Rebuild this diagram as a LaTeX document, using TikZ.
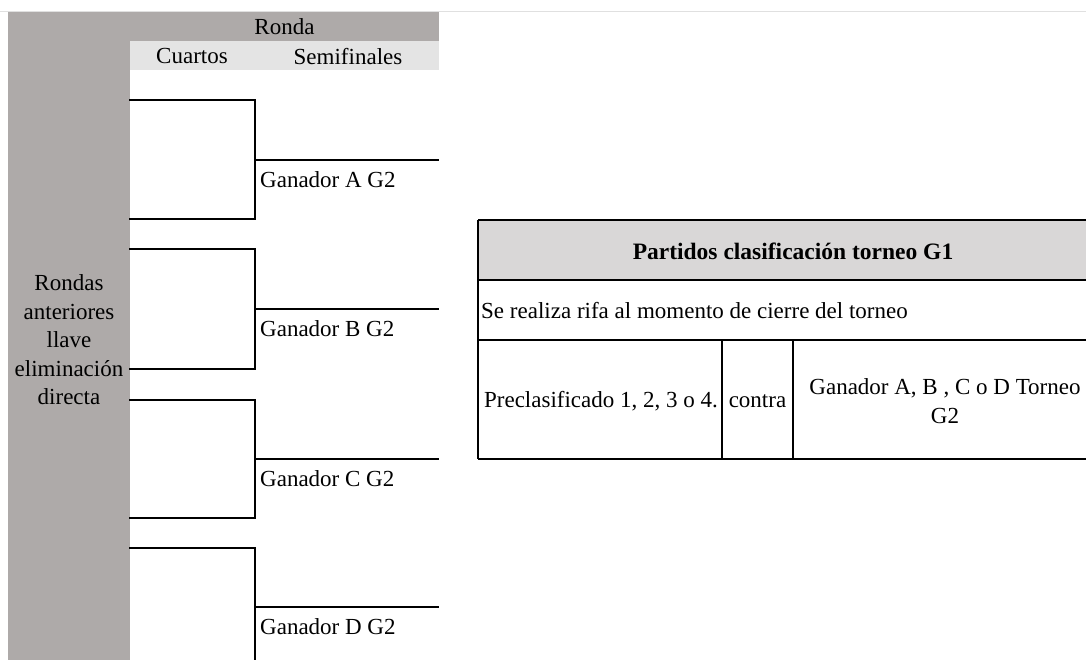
\documentclass[tikz,border=0pt]{standalone}
\usepackage{fontspec}
\setmainfont{Liberation Serif}
\definecolor{colDark}{RGB}{174,170,169}
\definecolor{colLight}{RGB}{228,228,228}
\definecolor{colHead}{RGB}{217,215,215}
\begin{document}
\begin{tikzpicture}[x=1pt,y=-1pt,
  txt/.style={inner sep=0pt, font=\fontsize{23}{28.5}\selectfont},
  bline/.style={line width=2.2pt, black},
  tline/.style={line width=2.2pt, black}]
\useasboundingbox (0,0) rectangle (1086,660);
\fill[white] (0,0) rectangle (1086,660);
\draw[black!12, line width=0.8pt] (0,11.5) -- (1086,11.5);
% gray panels
\fill[colDark] (8,12) rectangle (130,662);
\fill[colDark] (130,12) rectangle (439,41);
\fill[colLight] (130,41) rectangle (439,70);
\node[txt] (ronda) at (284.5,27) {Ronda};
\node[txt] (cuartos) at (192,56.5) {Cuartos};
\node[txt] (semi) at (348,56.5) {Semifinales};
\node[txt, align=center] (rondas) at (69,340) {Rondas\\anteriores\\llave\\eliminación\\directa};
% brackets
\foreach \n/\t/\b/\m in {A/100/219/160, B/249/369/309, C/400/518/459, D/548/680/607}{
  \coordinate (t\n) at (130,\t);
  \coordinate (tc\n) at (255,\t);
  \coordinate (bc\n) at (255,\b);
  \coordinate (b\n) at (130,\b);
  \coordinate (m\n) at (255,\m);
  \coordinate (w\n) at (439,\m);
  \draw[bline, line cap=rect] (t\n) -- (tc\n) -- (bc\n) -- (b\n);
  \draw[bline] (m\n) -- (w\n);
  \node[txt, anchor=west] (g\n) at (260,\m+20) {Ganador \n\ G2};
}
% table
\fill[colHead] (478,220) rectangle (1090,280);
\draw[tline] (478,220) -- (1090,220);
\draw[tline] (478,220) -- (478,459);
\draw[tline] (478,280) -- (1090,280);
\draw[tline] (478,340) -- (1090,340);
\draw[tline] (478,459) -- (1090,459);
\draw[tline] (722,340) -- (722,459);
\draw[tline] (793,340) -- (793,459);
\node[txt, font=\fontsize{23.5}{28.5}\selectfont\bfseries] (head) at (793,251) {Partidos clasificación torneo G1};
\node[txt, anchor=west] (rifa) at (481,311) {Se realiza rifa al momento de cierre del torneo};
\node[txt] (pre) at (601,401) {Preclasificado 1, 2, 3 o 4.};
\node[txt] (contra) at (757.5,401) {contra};
\node[txt, align=center] (gan) at (945,401) {Ganador A, B , C o D Torneo\\G2};
\end{tikzpicture}
\end{document}
